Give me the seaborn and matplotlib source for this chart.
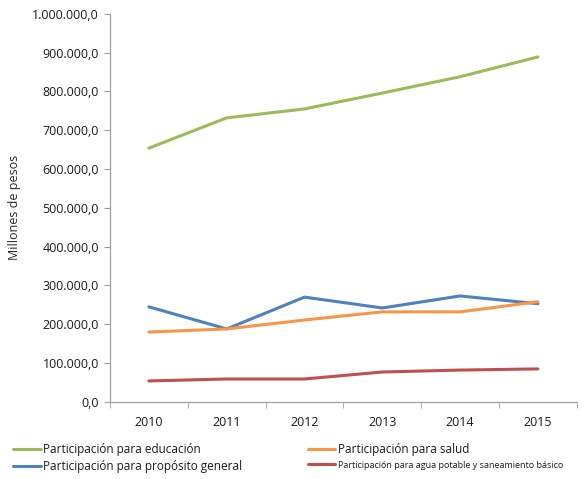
import matplotlib
matplotlib.use("Agg")
import matplotlib.pyplot as plt
from matplotlib.ticker import FuncFormatter, FixedLocator
import seaborn as sns
import pandas as pd

years = [2010, 2011, 2012, 2013, 2014, 2015]
educacion = [654000, 732000, 755000, 796000, 838000, 889000]
salud = [180000, 188000, 211000, 232000, 232000, 258000]
proposito_general = [245000, 188000, 270000, 242000, 273000, 253000]
agua = [54000, 59000, 59000, 77000, 82000, 85000]

series_names = [
    "Participación para educación",
    "Participación para propósito general",
    "Participación para salud",
    "Participación para agua potable y saneamiento básico",
]
series_values = [educacion, proposito_general, salud, agua]
colors = ["#9BBB59", "#4F81BD", "#F79646", "#C0504D"]

rows = []
for name, vals in zip(series_names, series_values):
    for i, v in enumerate(vals):
        rows.append({"pos": i, "valor": v, "serie": name})
df = pd.DataFrame(rows)

sns.set_style("white")
plt.rcParams["font.family"] = ["Open Sans", "DejaVu Sans"]
plt.rcParams["text.color"] = "#1a1a1a"
plt.rcParams["xtick.labelcolor"] = "#1a1a1a"
plt.rcParams["ytick.labelcolor"] = "#1a1a1a"

fig = plt.figure(figsize=(5.85, 4.79), dpi=100)
ax = fig.add_axes([0.188, 0.161, 0.798, 0.81])

sns.lineplot(data=df, x="pos", y="valor", hue="serie", hue_order=series_names,
             palette=colors, linewidth=2.2, ax=ax, legend=False)

ax.set_xlim(-0.5, len(years) - 0.5)
ax.set_ylim(0, 1000000)
ax.set_yticks(range(0, 1000001, 100000))
ax.yaxis.set_major_formatter(FuncFormatter(
    lambda v, p: f"{v:,.1f}".replace(",", "X").replace(".", ",").replace("X", ".")))
ax.set_xticks(range(len(years)))
ax.set_xticklabels([str(y) for y in years])
ax.xaxis.set_minor_locator(FixedLocator([i - 0.5 for i in range(len(years) + 1)]))
ax.tick_params(axis="x", which="major", length=0, pad=10, labelsize=9)
ax.tick_params(axis="x", which="minor", length=4, color="#A0A0A0", direction="out")
ax.tick_params(axis="y", length=4, color="#A0A0A0", direction="out", labelsize=9, pad=4)
ax.tick_params(bottom=True, left=True, which="both")

for s in ["top", "right"]:
    ax.spines[s].set_visible(False)
for s in ["left", "bottom"]:
    ax.spines[s].set_color("#A0A0A0")
    ax.spines[s].set_linewidth(0.9)

ax.set_xlabel("")
ax.set_ylabel("Millones de pesos", fontsize=9, labelpad=8)

handles = [plt.Line2D([], [], color=c, linewidth=2.2) for c in colors]
leg = fig.legend(handles, series_names, ncol=2, loc="upper left",
                 bbox_to_anchor=(0.015, 0.085), frameon=False, fontsize=8.5,
                 handlelength=2.3, handletextpad=0.2, columnspacing=5.6,
                 labelspacing=0.35, borderaxespad=0)
leg.get_texts()[3].set_fontsize(6.5)

fig.savefig("out.png", dpi=100)
